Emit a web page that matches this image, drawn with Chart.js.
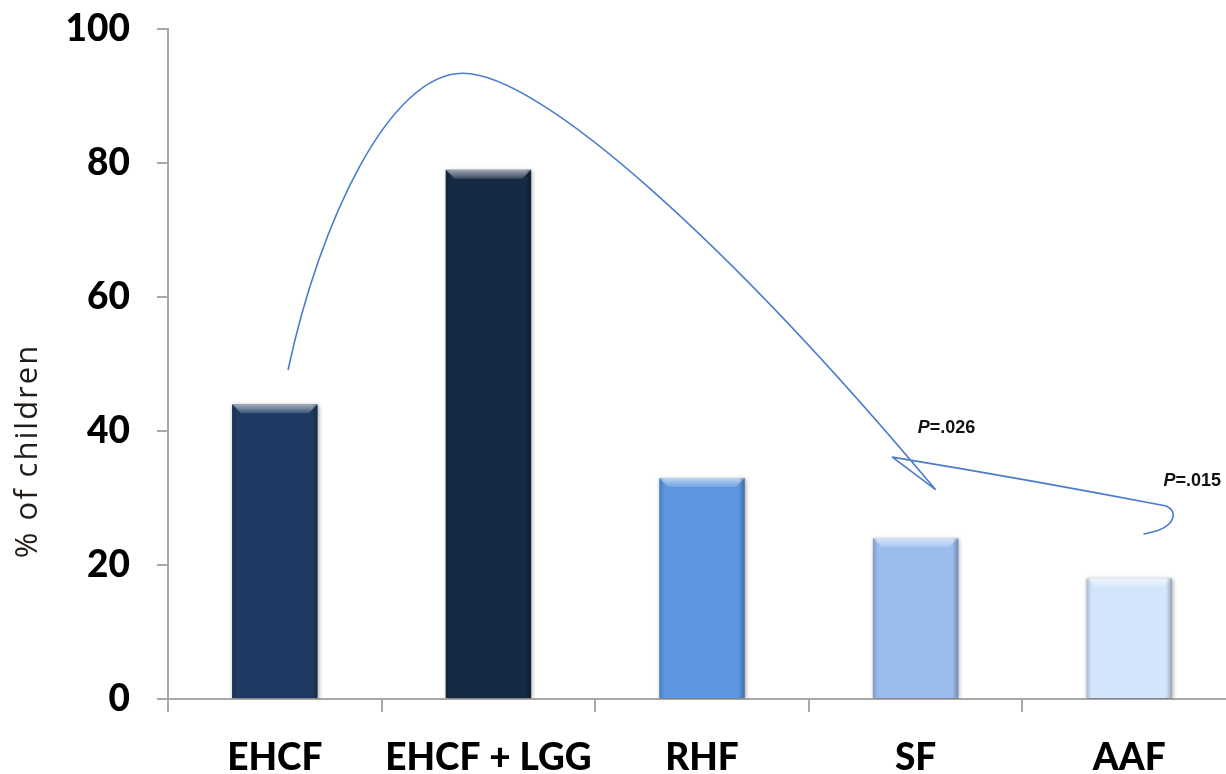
<!DOCTYPE html>
<html>
<head>
<meta charset="utf-8">
<title>% of children by formula</title>
<script src="https://cdn.jsdelivr.net/npm/chart.js@4.4.1/dist/chart.umd.min.js"></script>
<style>
  html, body { margin: 0; padding: 0; background: #fff; overflow: hidden; }
  #wrap { width: 1240px; height: 774px; }
</style>
</head>
<body>
<div id="wrap">
  <canvas id="myChart" width="1240" height="774"></canvas>
</div>
<script>
// Formula groups and share of children (%)
const categories = ['EHCF', 'EHCF + LGG', 'RHF', 'SF', 'AAF'];
const percentChildren = [44, 79, 33, 24, 18];
const yTickValues = [0, 20, 40, 60, 80, 100];

// P values vs EHCF + LGG
const pLabels = ['.026', '.015'];
const pLabelAt = [[3.01, 39.7], [4.16, 31.8]];   // [category index, % value]

const barColors = ['#1f3b63', '#172a45', '#5b96de', '#9abdee', '#d3e5fb'];

// hand drawn connector, in (category index, % value) space
const brace = [
  ['M', 0.062, 49.1],
  ['C', 0.212, 71.5, 0.540, 93.4, 0.881, 93.4],
  ['C', 1.242, 93.4, 2.132, 67.8, 3.092, 31.3],
  ['L', 2.891, 36.1],
  ['Q', 3.538, 32.7, 4.174, 28.8],
  ['C', 4.230, 27.9, 4.210, 26.0, 4.130, 25.1],
  ['L', 4.067, 24.6]
];

const FONT = 'Lato, "Open Sans", "DejaVu Sans", sans-serif';

// soft shadow under the bars, then an office-style bevel on top
const bevelBars = {
  id: 'bevelBars',
  beforeDatasetsDraw(chart) {
    const ctx = chart.ctx;
    ctx.save();
    ctx.shadowColor = 'rgba(0,0,0,0.35)';
    ctx.shadowBlur = 4;
    ctx.shadowOffsetX = 1;
    ctx.shadowOffsetY = 1;
  },
  afterDatasetsDraw(chart) {
    const ctx = chart.ctx;
    ctx.restore();
    ctx.save();
    chart.getDatasetMeta(0).data.forEach(bar => {
      const p = bar.getProps(['x', 'y', 'base', 'width'], true);
      const l = p.x - p.width / 2, r = p.x + p.width / 2, t = p.y, b = p.base;
      const bv = 9;
      let g = ctx.createLinearGradient(0, t, 0, t + bv);
      g.addColorStop(0, 'rgba(255,255,255,0.6)');
      g.addColorStop(1, 'rgba(255,255,255,0.14)');
      ctx.beginPath();
      ctx.moveTo(l, t);
      ctx.lineTo(r, t);
      ctx.lineTo(r - bv, t + bv);
      ctx.lineTo(l + bv, t + bv);
      ctx.closePath();
      ctx.fillStyle = g;
      ctx.fill();

      g = ctx.createLinearGradient(l, 0, r, 0);
      g.addColorStop(0, 'rgba(0,0,0,0.18)');
      g.addColorStop(0.06, 'rgba(0,0,0,0)');
      g.addColorStop(0.93, 'rgba(0,0,0,0)');
      g.addColorStop(1, 'rgba(0,0,0,0.28)');
      ctx.fillStyle = g;
      ctx.fillRect(l, t, r - l, b - t);
    });
    ctx.restore();
  }
};

// connector line, P labels and the y axis title
const annotations = {
  id: 'annotations',
  afterDraw(chart) {
    const ctx = chart.ctx;
    const xs = chart.scales.x, ys = chart.scales.y;
    const px = v => xs.getPixelForValue(v);
    const py = v => ys.getPixelForValue(v);

    ctx.save();
    ctx.beginPath();
    brace.forEach(seg => {
      const c = seg.slice(1);
      if (seg[0] === 'M') ctx.moveTo(px(c[0]), py(c[1]));
      if (seg[0] === 'L') ctx.lineTo(px(c[0]), py(c[1]));
      if (seg[0] === 'Q') ctx.quadraticCurveTo(px(c[0]), py(c[1]), px(c[2]), py(c[3]));
      if (seg[0] === 'C') ctx.bezierCurveTo(px(c[0]), py(c[1]), px(c[2]), py(c[3]), px(c[4]), py(c[5]));
    });
    ctx.strokeStyle = '#4a7ccb';
    ctx.lineWidth = 1.6;
    ctx.lineJoin = 'round';
    ctx.stroke();

    ctx.fillStyle = '#111';
    ctx.textBaseline = 'alphabetic';
    pLabels.forEach((txt, i) => {
      const x = px(pLabelAt[i][0]), y = py(pLabelAt[i][1]);
      ctx.font = 'italic bold 18px "Liberation Sans", Arial, sans-serif';
      ctx.fillText('P', x, y);
      const w = ctx.measureText('P').width;
      ctx.font = 'bold 18px "Liberation Sans", Arial, sans-serif';
      ctx.fillText('=' + txt, x + w, y);
    });

    // y axis title sits a little below the middle of the axis
    ctx.translate(28, 451);
    ctx.rotate(-Math.PI / 2);
    ctx.font = '31px "Open Sans", Lato, sans-serif';
    if ('letterSpacing' in ctx) ctx.letterSpacing = '2px';
    ctx.fillStyle = '#221c18';
    ctx.textAlign = 'center';
    ctx.textBaseline = 'middle';
    ctx.fillText('% of children', 0, 0);
    ctx.restore();
  }
};

const myChart = document.getElementById('myChart');

new Chart(myChart, {
  type: 'bar',
  data: {
    labels: categories,
    datasets: [{
      label: '% of children',
      data: percentChildren,
      backgroundColor: barColors,
      borderWidth: 0,
      barPercentage: 0.4,
      categoryPercentage: 1.0
    }]
  },
  options: {
    responsive: false,
    animation: false,
    events: [],
    layout: { padding: { top: 29, right: 4, left: 0, bottom: 0 } },
    plugins: {
      legend: { display: false },
      tooltip: { enabled: false },
      title: { display: false }
    },
    scales: {
      x: {
        afterFit: s => { s.height = 75; s.paddingLeft = 0; s.paddingRight = 0; },
        border: { color: '#a8a8a8', width: 2 },
        grid: { display: true, drawOnChartArea: false, drawTicks: true, tickLength: 13, color: '#a8a8a8', lineWidth: 2 },
        ticks: {
          color: '#000',
          padding: 24,
          font: { family: FONT, size: 37, weight: 900 }
        }
      },
      y: {
        min: 0,
        max: 100,
        afterFit: s => { s.width = 168; s.paddingTop = 0; s.paddingBottom = 0; },
        afterBuildTicks: s => { s.ticks = yTickValues.map(v => ({ value: v })); },
        border: { color: '#a8a8a8', width: 2 },
        grid: { display: true, drawOnChartArea: false, drawTicks: true, tickLength: 11, color: '#a8a8a8', lineWidth: 2 },
        ticks: {
          color: '#000',
          padding: 27,
          font: { family: FONT, size: 37, weight: 900 }
        }
      }
    }
  },
  plugins: [bevelBars, annotations]
});
</script>
</body>
</html>
